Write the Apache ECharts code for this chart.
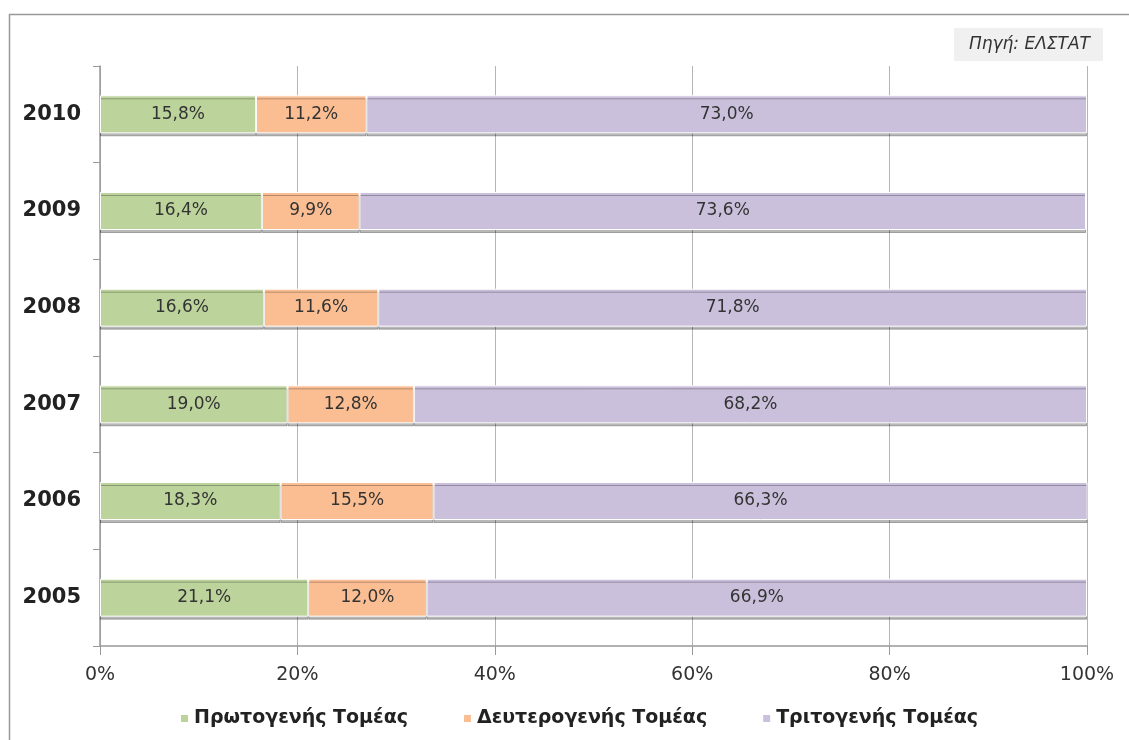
<!DOCTYPE html>
<html>
<head>
<meta charset="utf-8">
<style>
  html, body { margin: 0; padding: 0; background: #fff; }
  #main { width: 1129px; height: 740px; }
</style>
<script src="https://cdn.jsdelivr.net/npm/echarts@6/dist/echarts.min.js"></script>
</head>
<body>
<div id="main"></div>
<script>
  let years = ['2005', '2006', '2007', '2008', '2009', '2010'],
      primary = [21.1, 18.3, 19.0, 16.6, 16.4, 15.8],
      secondary = [12.0, 15.5, 12.8, 11.6, 9.9, 11.2],
      tertiary = [66.9, 66.3, 68.2, 71.8, 73.6, 73.0],
      seriesNames = ['Πρωτογενής Τομέας', 'Δευτερογενής Τομέας', 'Τριτογενής Τομέας'],
      colors = ['#bcd39c', '#fbbe92', '#cbc0dc'];

  function pct(v) {
    return v.toFixed(1).replace('.', ',') + '%';
  }

  function makeSeries(name, data, color) {
    return {
      name: name,
      type: 'bar',
      stack: 'total',
      barWidth: 38,
      data: data,
      itemStyle: {
        color: color,
        borderColor: '#fff',
        borderWidth: 1,
        shadowColor: 'rgba(0,0,0,0.28)',
        shadowOffsetY: 3,
        shadowBlur: 0
      },
      label: {
        show: true,
        position: 'inside',
        color: '#333',
        fontFamily: 'DejaVu Sans',
        fontSize: 17,
        formatter: p => pct(p.value)
      }
    };
  }

  var myChart = echarts.init(document.getElementById('main'));
  var option = {
    animation: false,
    backgroundColor: '#fff',
    graphic: [{
      type: 'rect',
      shape: { x: 9.5, y: 14.5, width: 1200, height: 800 },
      style: { fill: 'none', stroke: '#999', lineWidth: 1.5 },
      z: -10
    }],
    title: {
      text: 'Πηγή: ΕΛΣΤΑΤ',
      right: 26,
      top: 28,
      backgroundColor: '#f0f0f0',
      padding: [8, 13, 8, 15],
      textStyle: {
        fontFamily: 'DejaVu Sans',
        fontStyle: 'italic',
        fontWeight: 'normal',
        fontSize: 17,
        color: '#333'
      }
    },
    legend: {
      data: seriesNames,
      top: 704,
      left: 174,
      itemWidth: 9,
      itemHeight: 9,
      itemGap: 54,
      icon: 'rect',
      textStyle: {
        fontFamily: 'DejaVu Sans',
        fontWeight: 'bold',
        fontSize: 19,
        color: '#222'
      }
    },
    grid: {
      left: 100,
      right: 42,
      top: 66,
      bottom: 94
    },
    xAxis: {
      type: 'value',
      min: 0,
      max: 100,
      interval: 20,
      axisLine: { show: true, lineStyle: { color: '#999', width: 1.5 } },
      axisTick: { show: true, length: 9, lineStyle: { color: '#999' } },
      splitLine: { show: true, lineStyle: { color: '#b5b5b5' } },
      axisLabel: {
        formatter: '{value}%',
        margin: 20,
        fontFamily: 'DejaVu Sans',
        fontSize: 19,
        color: '#333'
      }
    },
    yAxis: {
      type: 'category',
      data: years,
      axisLine: { show: true, lineStyle: { color: '#999', width: 1.5 } },
      axisTick: { show: true, length: 7, lineStyle: { color: '#999' } },
      axisLabel: {
        margin: 19,
        fontFamily: 'DejaVu Sans',
        fontWeight: 'bold',
        fontSize: 21,
        color: '#222'
      }
    },
    series: [
      makeSeries(seriesNames[0], primary, colors[0]),
      makeSeries(seriesNames[1], secondary, colors[1]),
      makeSeries(seriesNames[2], tertiary, colors[2])
    ]
  };
  myChart.setOption(option);
</script>
</body>
</html>
